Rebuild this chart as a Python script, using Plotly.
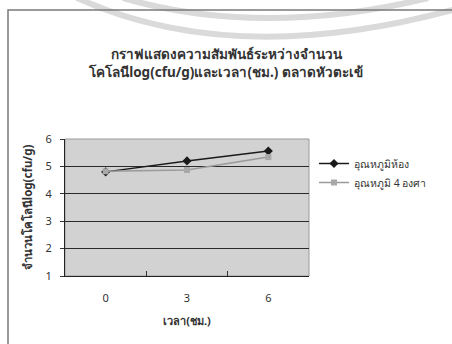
import plotly.graph_objects as go

# Storage time (hours) and colony counts log(cfu/g)
time_hours = ["0", "3", "6"]
room_temp = [4.80, 5.20, 5.56]
chilled_4c = [4.82, 4.87, 5.34]
series_names = ["อุณหภูมิห้อง", "อุณหภูมิ 4 องศา"]

title_text = "กราฟแสดงความสัมพันธ์ระหว่างจำนวน<br>โคโลนีlog(cfu/g)และเวลา(ชม.) ตลาดหัวตะเข้"
x_title = "เวลา(ชม.)"
y_title = "จำนวนโคโลนีlog(cfu/g)"

W, H = 452, 344
L, R, T, B = 65, 143, 139, 68
pw, ph = W - L - R, H - T - B

def px_x(x):
    return (x - L) / pw

def px_y(y):
    return (H - B - y) / ph

FONT = "Tahoma, 'Noto Sans', 'DejaVu Sans', sans-serif"

fig = go.Figure()
fig.add_trace(go.Scatter(
    x=time_hours, y=room_temp, name=series_names[0], mode="lines+markers",
    line=dict(color="#1a1a1a", width=1.5),
    marker=dict(symbol="diamond", size=7, color="#1a1a1a"),
))
fig.add_trace(go.Scatter(
    x=time_hours, y=chilled_4c, name=series_names[1], mode="lines+markers",
    line=dict(color="#9a9a9a", width=1.5),
    marker=dict(symbol="square", size=6, color="#a8a8a8"),
))

shapes = []
# faint circular watermark bands across the top (quadratic curves)
for p0, pc, p1 in [((77, -2), (236, 70), (460, 8)), ((123, -2), (262, 38), (428, -2))]:
    path = "M {} {} Q {} {} {} {}".format(
        px_x(p0[0]), px_y(p0[1]), px_x(pc[0]), px_y(pc[1]), px_x(p1[0]), px_y(p1[1]))
    shapes.append(dict(type="path", path=path, xref="paper", yref="paper",
                       line=dict(color="#dadada", width=6), layer="below"))
# outer chart frame
shapes.append(dict(type="rect", xref="paper", yref="paper",
                   x0=px_x(8), x1=px_x(470), y0=px_y(360), y1=px_y(10),
                   line=dict(color="#7a7a7a", width=1.5), layer="below"))
# plot-area border
shapes.append(dict(type="rect", xref="paper", yref="paper", x0=0, x1=1, y0=0, y1=1,
                   line=dict(color="#9a9a9a", width=1), layer="below"))

fig.update_layout(
    width=W, height=H,
    margin=dict(l=L, r=R, t=T, b=B),
    paper_bgcolor="white",
    plot_bgcolor="#d2d2d2",
    font=dict(family=FONT, color="#222", size=10),
    title=dict(text="<b>" + title_text + "</b>", x=0.5, xanchor="center",
               y=1 - 59 / H, yanchor="middle", yref="container",
               font=dict(size=13.5, color="#333")),
    showlegend=True,
    legend=dict(x=px_x(314), y=px_y(149), xanchor="left", yanchor="top",
                bgcolor="rgba(0,0,0,0)", font=dict(size=10.5, color="#333"),
                itemwidth=30, tracegroupgap=2),
    shapes=shapes,
    xaxis=dict(
        type="category", tickson="boundaries", ticks="inside", ticklen=5,
        tickcolor="#333", showgrid=False, showline=True, linecolor="#222",
        linewidth=1.2, range=[-0.5, 2.5], ticklabelstandoff=12,
        tickfont=dict(size=11, color="#333"),
        title=dict(text="<b>" + x_title + "</b>", font=dict(size=11, color="#333"), standoff=13),
    ),
    yaxis=dict(
        range=[1, 6], dtick=1, ticks="outside", ticklen=4, tickcolor="#333",
        showgrid=True, gridcolor="#2a2a2a", gridwidth=1,
        showline=True, linecolor="#222", linewidth=1.2, zeroline=False,
        ticklabelstandoff=6,
        tickfont=dict(size=11, color="#333"),
        title=dict(text="<b>" + y_title + "</b>", font=dict(size=11.5, color="#333"), standoff=10),
    ),
)

fig.write_html("out.html")
